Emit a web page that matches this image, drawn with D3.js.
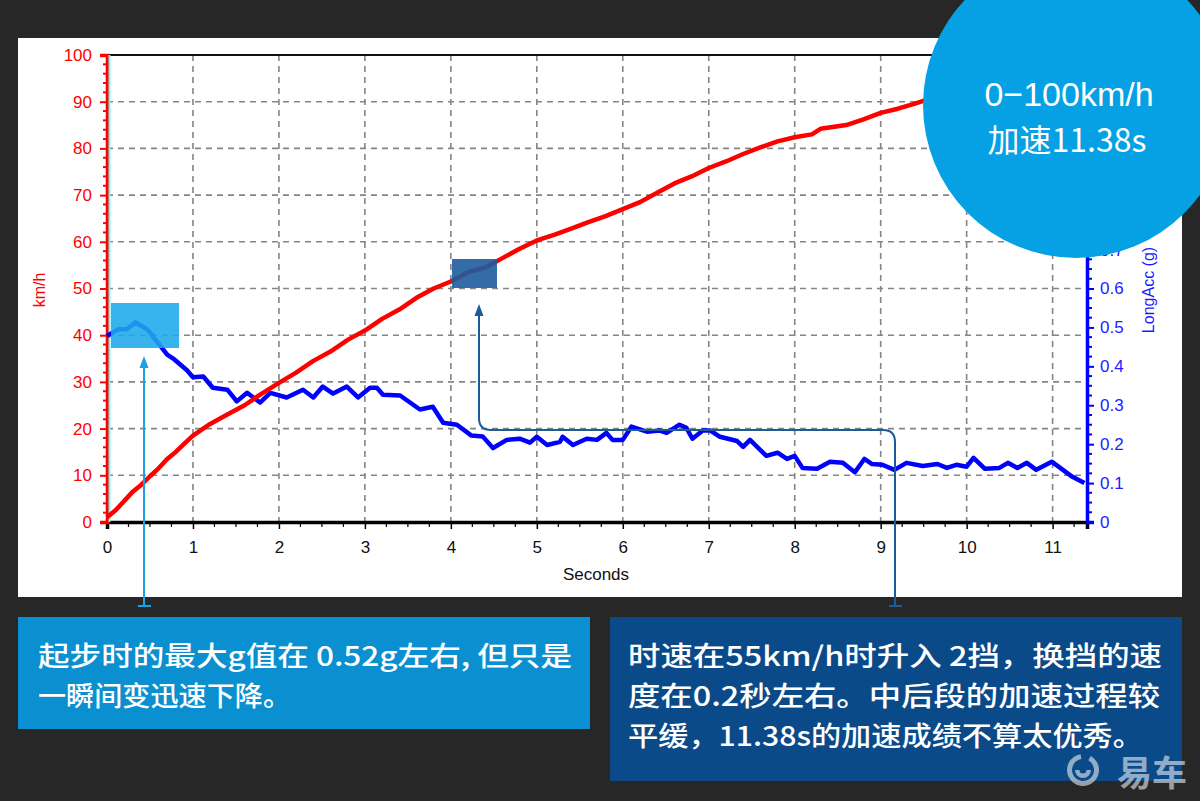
<!DOCTYPE html>
<html><head><meta charset="utf-8">
<script src="https://cdn.jsdelivr.net/npm/d3@7/dist/d3.min.js"></script>
<style>html,body{margin:0;padding:0;background:#272727;}svg{display:block;}</style>
</head><body>
<svg id="c" width="1200" height="801"></svg>
<script>
// ---------- data ----------
const speedTime = [0,0.1,0.2,0.3,0.4,0.5,0.6,0.7,0.8,0.9,1.0,1.2,1.4,1.6,1.8,2.0,2.2,2.4,2.6,2.8,3.0,3.2,3.4,3.6,3.8,4.0,4.2,4.4,4.6,4.8,5.0,5.2,5.4,5.6,5.8,6.0,6.2,6.4,6.6,6.8,7.0,7.2,7.4,7.6,7.8,8.0,8.2,8.3,8.6,8.8,9.0,9.2,9.4,9.6,9.8,10.0,10.4,10.8,11.2,11.38];
const speedKmh  = [1.0,2.5,4.5,6.5,8.0,9.8,11.5,13.5,15.0,16.8,18.5,21,23,25,27.5,29.8,32,34.5,36.5,39,41,43.5,45.5,48,50,51.5,53.5,54.5,56.5,58.5,60.3,61.5,62.8,64.2,65.5,67,68.5,70.5,72.5,74,75.8,77.2,78.8,80.2,81.5,82.4,83,84.2,85,86.2,87.6,88.5,89.6,90.8,91.8,92.8,95,97,99,100];
const accTime = [0,0.13,0.23,0.33,0.47,0.58,0.70,0.77,0.93,1.0,1.12,1.23,1.40,1.51,1.63,1.78,1.90,2.09,2.28,2.40,2.51,2.63,2.79,2.92,3.06,3.14,3.21,3.41,3.64,3.79,3.91,4.07,4.24,4.37,4.49,4.65,4.80,4.92,5.0,5.12,5.27,5.30,5.42,5.58,5.70,5.81,5.88,6.0,6.10,6.28,6.43,6.51,6.66,6.74,6.81,6.93,7.02,7.13,7.33,7.40,7.48,7.67,7.80,7.91,8.0,8.09,8.26,8.41,8.56,8.70,8.81,8.90,9.02,9.16,9.30,9.49,9.66,9.77,9.88,10.0,10.08,10.21,10.38,10.48,10.59,10.70,10.81,10.99,11.12,11.23,11.37];
const accG = [0.478,0.495,0.495,0.513,0.495,0.464,0.43,0.42,0.39,0.372,0.374,0.345,0.34,0.31,0.332,0.307,0.332,0.32,0.34,0.32,0.348,0.33,0.348,0.32,0.345,0.345,0.327,0.325,0.289,0.296,0.255,0.25,0.222,0.22,0.19,0.211,0.214,0.204,0.219,0.198,0.206,0.219,0.198,0.214,0.211,0.229,0.211,0.211,0.245,0.232,0.235,0.229,0.25,0.242,0.214,0.235,0.235,0.219,0.208,0.193,0.211,0.17,0.178,0.162,0.17,0.139,0.137,0.155,0.152,0.128,0.162,0.149,0.147,0.134,0.152,0.144,0.149,0.139,0.147,0.142,0.165,0.137,0.139,0.152,0.139,0.152,0.134,0.155,0.134,0.116,0.1];
const xTicks = [0,1,2,3,4,5,6,7,8,9,10,11];
const speedTicks = [0,10,20,30,40,50,60,70,80,90,100];
const accTicks = [0,0.1,0.2,0.3,0.4,0.5,0.6,0.7];   // labels visible in the reference (higher ones are hidden by the badge)
const xLabel = "Seconds", leftLabel = "km/h", rightLabel = "LongAcc (g)";
const circleLines = ["0\u2212100km/h", "加速11.38s"];
const note1Lines = ["起步时的最大g值在 0.52g左右, 但只是", "一瞬间变迅速下降。"];
const note2Lines = ["时速在55km/h时升入 2挡，换挡的速", "度在0.2秒左右。中后段的加速过程较", "平缓，11.38s的加速成绩不算太优秀。"];

// ---------- chart ----------
const svg = d3.select("#c");
const x = d3.scaleLinear().domain([0, 11.4]).range([107, 1087]);
const yL = d3.scaleLinear().domain([0, 100]).range([522, 55]);
const yR = d3.scaleLinear().domain([0, 1.2]).range([522, 55]);
const sans = "'Liberation Sans', Arial, sans-serif";
const cjk = "'Noto Sans CJK SC', 'Noto Sans', sans-serif";

svg.append("rect").attr("width",1200).attr("height",801).attr("fill","#272727");
svg.append("rect").attr("x",18).attr("y",38).attr("width",1164).attr("height",559).attr("fill","#ffffff");

// grid
const grid = svg.append("g").attr("stroke","#858585").attr("stroke-width",1.6).attr("stroke-dasharray","6,5");
grid.selectAll("line.v").data(xTicks.filter(d=>d>0)).join("line")
  .attr("x1",d=>x(d)).attr("x2",d=>x(d)).attr("y1",yL(100)).attr("y2",yL(0));
grid.selectAll("line.h").data(speedTicks.filter(d=>d>0&&d<100)).join("line")
  .attr("x1",x(0)).attr("x2",x(11.4)).attr("y1",d=>yL(d)).attr("y2",d=>yL(d));

// top border
svg.append("line").attr("x1",x(0)).attr("x2",x(11.4)).attr("y1",yL(100)).attr("y2",yL(100)).attr("stroke","#111").attr("stroke-width",2);

// bottom axis
const xAxis = d3.axisBottom(x).tickValues(xTicks).tickSize(7).tickPadding(12).tickFormat(d3.format("d"));
const gx = svg.append("g").attr("transform",`translate(0,${yL(0)})`).call(xAxis);
gx.select(".domain").attr("stroke","#000").attr("stroke-width",3.5);
gx.selectAll(".tick line").attr("stroke","#000").attr("stroke-width",1.5);
gx.selectAll("text").attr("font-family",sans).attr("font-size",17).attr("fill","#111");
const xMinor = d3.range(0, 46).map(i=>i*0.25).filter(d=>d%1!==0 && d<=11.4);
svg.append("g").selectAll("line").data(xMinor).join("line")
  .attr("x1",d=>x(d)).attr("x2",d=>x(d)).attr("y1",yL(0)).attr("y2",yL(0)+5).attr("stroke","#000").attr("stroke-width",1.2);
svg.append("text").attr("x",596).attr("y",580).attr("text-anchor","middle").attr("font-family",sans).attr("font-size",17).attr("fill","#111").text(xLabel);

// left axis
const yAxisL = d3.axisLeft(yL).tickValues(speedTicks).tickSize(7).tickPadding(8);
const gl = svg.append("g").attr("transform",`translate(${x(0)},0)`).call(yAxisL);
gl.select(".domain").attr("stroke","#ff0000").attr("stroke-width",3.5);
gl.selectAll(".tick line").attr("stroke","#ff0000").attr("stroke-width",2);
gl.selectAll("text").attr("font-family",sans).attr("font-size",17).attr("fill","#ff0000");
const lMinor = d3.range(0, 101, 2).filter(d=>d%10!==0);
svg.append("g").selectAll("line").data(lMinor).join("line")
  .attr("x1",x(0)-4).attr("x2",x(0)).attr("y1",d=>yL(d)).attr("y2",d=>yL(d)).attr("stroke","#ff0000").attr("stroke-width",2);
svg.append("line").attr("x1",x(0)+2.5).attr("x2",x(0)+2.5).attr("y1",yL(100)).attr("y2",yL(0)).attr("stroke","#7ff3f3").attr("stroke-width",2);
svg.append("text").attr("transform",`translate(45,290) rotate(-90)`).attr("text-anchor","middle")
  .attr("font-family",sans).attr("font-size",16).attr("fill","#ff0000").text(leftLabel);

// right axis
const yAxisR = d3.axisRight(yR).tickValues(accTicks).tickSize(7).tickPadding(6).tickFormat(d=>d===0?"0":d3.format(".1f")(d));
const gr = svg.append("g").attr("transform",`translate(${x(11.4)},0)`).call(yAxisR);
gr.select(".domain").attr("stroke","#0000ff").attr("stroke-width",3.5);
gr.selectAll(".tick line").attr("stroke","#0000ff").attr("stroke-width",2);
gr.selectAll("text").attr("font-family",sans).attr("font-size",17).attr("fill","#2222ff");
const rMinor = d3.range(0, 49).map(i=>i*0.025).filter(d=>Math.abs(d*10-Math.round(d*10))>1e-6);
svg.append("g").selectAll("line").data(rMinor).join("line")
  .attr("x1",x(11.4)).attr("x2",x(11.4)+5).attr("y1",d=>yR(d)).attr("y2",d=>yR(d)).attr("stroke","#0000ff").attr("stroke-width",2);
svg.append("text").attr("transform",`translate(1154,290) rotate(-90)`).attr("text-anchor","middle")
  .attr("font-family",sans).attr("font-size",16).attr("fill","#1a1aff").text(rightLabel);

// series
const speedData = speedTime.map((t,i)=>({t, v:speedKmh[i]}));
const accData = accTime.map((t,i)=>({t, g:accG[i]}));
svg.append("path").datum(accData).attr("fill","none").attr("stroke","#0000ff").attr("stroke-width",4.5).attr("stroke-linejoin","round")
  .attr("d", d3.line().x(d=>x(d.t)).y(d=>yR(d.g)));
svg.append("path").datum(speedData).attr("fill","none").attr("stroke","#ff0000").attr("stroke-width",4.5).attr("stroke-linejoin","round")
  .attr("d", d3.line().x(d=>x(d.t)).y(d=>yL(d.v)));

// highlight boxes
svg.append("rect").attr("x",111).attr("y",303).attr("width",68).attr("height",45).attr("fill","#1ea8ea").attr("opacity",0.88);
svg.append("rect").attr("x",452).attr("y",259).attr("width",45).attr("height",29).attr("fill","#1d5c9c").attr("opacity",0.9);

// connectors
const c1 = "#1ca2e2", c2 = "#1b5c98";
svg.append("path").attr("d","M144,366 L144,606").attr("stroke",c1).attr("stroke-width",2).attr("fill","none");
svg.append("path").attr("d","M144,356 L139.5,368 L148.5,368Z").attr("fill",c1);
svg.append("path").attr("d","M138,606 L151,606").attr("stroke",c1).attr("stroke-width",2);
svg.append("path").attr("d","M479,314 L479,418 Q479,430 491,430 L883,430 Q895,430 895,442 L895,606")
  .attr("stroke",c2).attr("stroke-width",2).attr("fill","none");
svg.append("path").attr("d","M479,304 L474.5,316 L483.5,316Z").attr("fill",c2);
svg.append("path").attr("d","M889,606 L902,606").attr("stroke",c2).attr("stroke-width",2);

// circle badge
svg.append("circle").attr("cx",1076).attr("cy",105).attr("r",153).attr("fill","#06a0e4");
svg.append("text").attr("x",1069).attr("y",106).attr("text-anchor","middle")
  .attr("font-family",sans).attr("font-size",34).attr("fill","#ffffff").text(circleLines[0]);
svg.append("text").attr("x",1067).attr("y",152).attr("text-anchor","middle")
  .attr("font-family",cjk).attr("font-size",32).attr("fill","#ffffff").text(circleLines[1]);

// note boxes
svg.append("rect").attr("x",18).attr("y",617).attr("width",572).attr("height",112).attr("fill","#0a90d0");
svg.append("rect").attr("x",610).attr("y",617).attr("width",572).attr("height",164).attr("fill","#0b4a89");
const n1w = [534, 253], n2w = [534, 532, 515];
svg.append("g").selectAll("text").data(note1Lines).join("text")
  .attr("x",38).attr("y",(d,i)=>666+i*40).attr("textLength",(d,i)=>n1w[i]).attr("lengthAdjust","spacingAndGlyphs")
  .attr("font-family",cjk).attr("font-size",27).attr("font-weight",500).attr("fill","#ffffff").text(d=>d);
svg.append("g").selectAll("text").data(note2Lines).join("text")
  .attr("x",628).attr("y",(d,i)=>666+i*40).attr("textLength",(d,i)=>n2w[i]).attr("lengthAdjust","spacingAndGlyphs")
  .attr("font-family",cjk).attr("font-size",27).attr("font-weight",500).attr("fill","#ffffff").text(d=>d);

// watermark logo
const logo = svg.append("g").attr("opacity",0.62);
logo.append("path").attr("d", d3.arc()({innerRadius:11, outerRadius:16, startAngle:0.5, endAngle:2*Math.PI-0.15}))
  .attr("transform","translate(1083,770)").attr("fill","#e4e8ee");
logo.append("path").attr("d", d3.arc()({innerRadius:3.5, outerRadius:8, startAngle:Math.PI/2, endAngle:Math.PI*1.5}))
  .attr("transform","translate(1083,770)").attr("fill","#e4e8ee");
logo.append("text").attr("x",1117).attr("y",786).attr("font-family",cjk).attr("font-size",35).attr("font-weight",700)
  .attr("fill","#e4e8ee").text("易车");
</script>
</body></html>
